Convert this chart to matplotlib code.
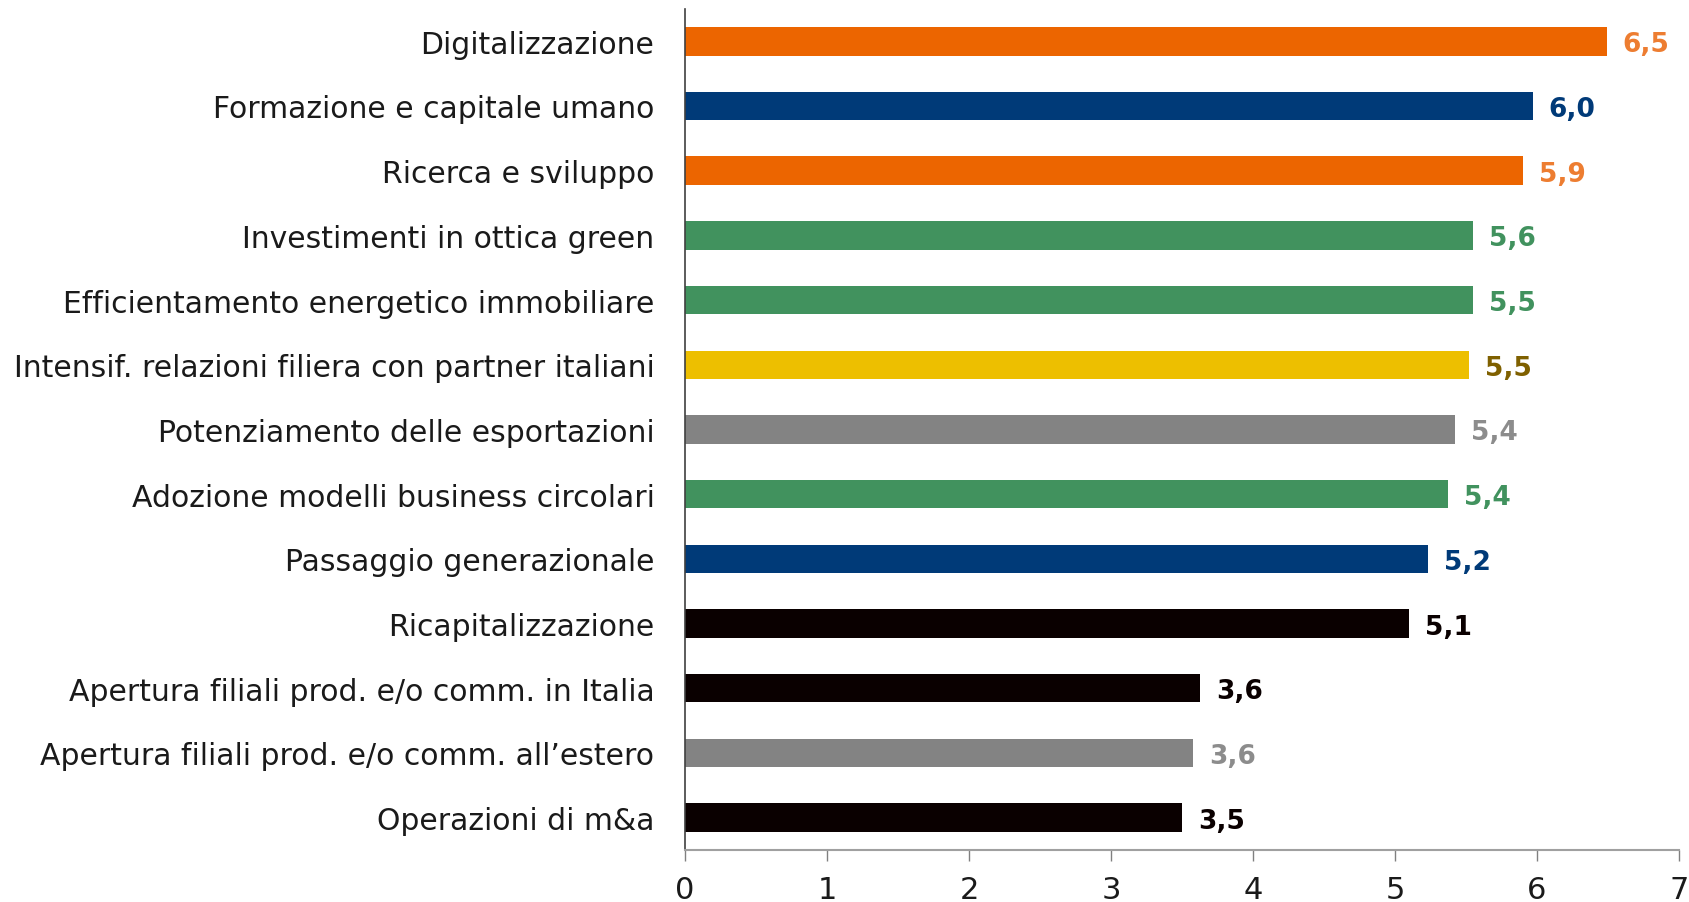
import matplotlib
matplotlib.use("Agg")
import matplotlib.pyplot as plt

categories = [
    "Digitalizzazione",
    "Formazione e capitale umano",
    "Ricerca e sviluppo",
    "Investimenti in ottica green",
    "Efficientamento energetico immobiliare",
    "Intensif. relazioni filiera con partner italiani",
    "Potenziamento delle esportazioni",
    "Adozione modelli business circolari",
    "Passaggio generazionale",
    "Ricapitalizzazione",
    "Apertura filiali prod. e/o comm. in Italia",
    "Apertura filiali prod. e/o comm. all\u2019estero",
    "Operazioni di m&a",
]
values = [6.49, 5.97, 5.90, 5.55, 5.55, 5.52, 5.42, 5.37, 5.23, 5.10, 3.63, 3.58, 3.50]
value_labels = ["6,5", "6,0", "5,9", "5,6", "5,5", "5,5", "5,4", "5,4", "5,2", "5,1", "3,6", "3,6", "3,5"]
bar_colors = ["#EC6500", "#003A78", "#EC6500", "#41925E", "#41925E", "#EDBF00", "#838383",
              "#41925E", "#003A78", "#0A0000", "#0A0000", "#838383", "#0A0000"]
label_colors = ["#ED7D31", "#003A78", "#ED7D31", "#41925E", "#41925E", "#7F6000", "#8C8C8C",
                "#41925E", "#003A78", "#0A0000", "#0A0000", "#8C8C8C", "#0A0000"]
xticks = [0, 1, 2, 3, 4, 5, 6, 7]

plt.rcParams['font.family'] = ['DejaVu Sans']

fig = plt.figure(figsize=(16.9, 9.03), dpi=100)
ax = fig.add_axes([0.4053, 0.0576, 0.5882, 0.9314])

y = list(range(len(categories)))
ax.barh(y, values, height=0.44, color=bar_colors)
for yi, v, lab, c in zip(y, values, value_labels, label_colors):
    ax.annotate(lab, (v, yi), xytext=(16, -3), textcoords="offset pixels",
                ha="left", va="center", fontsize=19, fontweight="bold", color=c)

ax.set_ylim(len(categories) - 0.5, -0.5)
ax.set_xlim(0, 7)
ax.set_yticks(y)
ax.set_yticklabels(categories, fontsize=21.5, color="#1a1a1a")
ax.set_xticks(xticks)
ax.set_xticklabels([str(t) for t in xticks], fontsize=22, color="#1a1a1a")
ax.tick_params(axis="y", length=0, pad=22)
ax.tick_params(axis="x", direction="out", length=8, width=1, color="#808080", pad=10)

for s in ["top", "right"]:
    ax.spines[s].set_visible(False)
ax.spines["left"].set_color("#404040")
ax.spines["left"].set_linewidth(1.2)
ax.spines["bottom"].set_color("#a0a0a0")
ax.spines["bottom"].set_linewidth(1.5)

fig.savefig("out.png", dpi=100)
